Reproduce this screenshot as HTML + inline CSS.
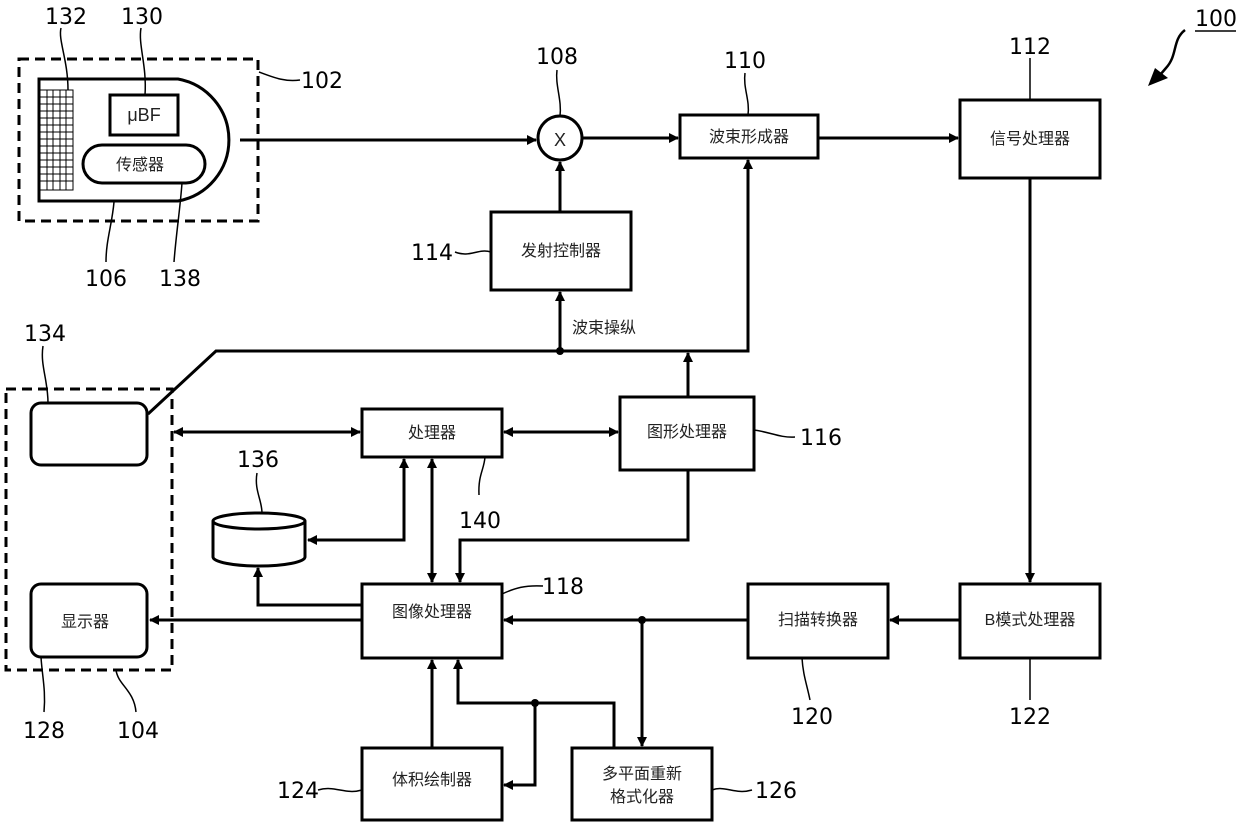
<!DOCTYPE html>
<html><head><meta charset="utf-8"><style>
html,body{margin:0;padding:0;background:#fff;}
svg{display:block;}
.n{font-family:"DejaVu Sans","Liberation Sans",sans-serif;font-size:22px;fill:#000;}
.c{font-family:"Liberation Sans","Noto Sans CJK SC",sans-serif;font-size:16px;fill:#222;}
</style></head><body>
<svg width="1239" height="830" viewBox="0 0 1239 830" xmlns="http://www.w3.org/2000/svg">
<defs>
<marker id="a" markerWidth="10" markerHeight="10" refX="9" refY="5" orient="auto" markerUnits="userSpaceOnUse" viewBox="0 0 10 10"><path d="M0,0 L10,5 L0,10z" fill="#000"/></marker>
<marker id="b" markerWidth="10" markerHeight="10" refX="1" refY="5" orient="auto" markerUnits="userSpaceOnUse" viewBox="0 0 10 10"><path d="M10,0 L0,5 L10,10z" fill="#000"/></marker>
</defs>
<g fill="none" stroke="#000" stroke-width="3">
<rect x="19" y="59" width="239" height="162" stroke-dasharray="10,6"/>
<rect x="6" y="389" width="166" height="281" stroke-dasharray="10,6"/>
<path d="M39,79 H178 A62,62 0 0 1 178,201 H39 Z"/>
<rect x="110" y="95" width="68" height="40"/>
<rect x="83" y="145" width="122" height="38" rx="19"/>
<circle cx="560" cy="138" r="22"/>
<rect x="680" y="115" width="138" height="43"/>
<rect x="960" y="100" width="140" height="78"/>
<rect x="491" y="212" width="140" height="78"/>
<rect x="620" y="397" width="134" height="73"/>
<rect x="31" y="403" width="116" height="62" rx="10"/>
<rect x="362" y="409" width="140" height="48"/>
<rect x="362" y="584" width="140" height="74"/>
<rect x="31" y="584" width="116" height="73" rx="10"/>
<rect x="748" y="584" width="140" height="74"/>
<rect x="960" y="584" width="140" height="74"/>
<rect x="362" y="748" width="140" height="72"/>
<rect x="572" y="748" width="140" height="72"/>
<path d="M213,521 V557 A46,9 0 0 0 305,557 V521"/>
<ellipse cx="259" cy="521" rx="46" ry="8"/>
</g>
<g stroke="#000" stroke-width="1" fill="none">
<rect x="40" y="90" width="33" height="100"/>
<path d="M47,90V190M53,90V190M60,90V190M66,90V190"/>
<path d="M40,97H73M40,104H73M40,111H73M40,118H73M40,125H73M40,132H73M40,139H73M40,146H73M40,153H73M40,160H73M40,167H73M40,174H73M40,181H73"/>
</g>
<g fill="none" stroke="#000" stroke-width="3">
<path d="M240,140 H536" marker-end="url(#a)"/>
<path d="M582,138 H678" marker-end="url(#a)"/>
<path d="M818,138 H958" marker-end="url(#a)"/>
<path d="M560,212 V162" marker-end="url(#a)"/>
<path d="M148,414 L216,351 H748 V160" marker-end="url(#a)"/>
<path d="M560,351 V292" marker-end="url(#a)"/>
<path d="M688,397 V353" marker-end="url(#a)"/>
<path d="M174,432 H360" marker-start="url(#b)" marker-end="url(#a)"/>
<path d="M504,432 H618" marker-start="url(#b)" marker-end="url(#a)"/>
<path d="M404,459 V540 H308" marker-start="url(#b)" marker-end="url(#a)"/>
<path d="M432,459 V582" marker-start="url(#b)" marker-end="url(#a)"/>
<path d="M688,470 V540 H460 V582" marker-end="url(#a)"/>
<path d="M362,605 H258 V568" marker-end="url(#a)"/>
<path d="M362,620 H150" marker-end="url(#a)"/>
<path d="M1030,178 V582" marker-end="url(#a)"/>
<path d="M960,620 H890" marker-end="url(#a)"/>
<path d="M748,620 H504" marker-end="url(#a)"/>
<path d="M642,620 V746" marker-end="url(#a)"/>
<path d="M614,748 V703 H458 V660" marker-end="url(#a)"/>
<path d="M535,703 V785 H504" marker-end="url(#a)"/>
<path d="M432,748 V660" marker-end="url(#a)"/>
</g>
<g fill="#000"><circle cx="560" cy="351" r="4"/><circle cx="642" cy="620" r="4"/><circle cx="535" cy="703" r="4"/></g>
<g fill="none" stroke="#000" stroke-width="1.5">
<path d="M61,28 C58,40 68,60 68,90"/>
<path d="M141,28 C138,45 147,65 145,95"/>
<path d="M259,72 C275,78 285,82 300,80"/>
<path d="M114,202 C112,225 106,240 106,262"/>
<path d="M182,183 C180,210 176,235 174,262"/>
<path d="M557,70 C555,85 562,100 560,116"/>
<path d="M745,73 C743,88 750,100 748,115"/>
<path d="M1030,58 V100"/>
<path d="M455,252 C470,258 478,248 491,252"/>
<path d="M43,346 C40,365 48,380 48,403"/>
<path d="M754,430 C770,432 780,438 795,437"/>
<path d="M257,473 C254,490 262,500 262,513"/>
<path d="M485,457 C484,470 478,475 479,495"/>
<path d="M502,594 C515,588 525,585 543,586"/>
<path d="M41,657 C42,675 46,690 44,712"/>
<path d="M116,670 C118,685 134,690 136,712"/>
<path d="M802,658 C803,675 807,685 810,700"/>
<path d="M1030,658 V700"/>
<path d="M318,790 C335,785 345,795 362,790"/>
<path d="M712,790 C725,785 735,795 752,790"/>
</g>
<path d="M1185,30 C1172,40 1178,55 1166,68 L1160,75" fill="none" stroke="#000" stroke-width="2.5"/>
<path d="M1148,86 L1155,68 L1168,78z" fill="#000"/>
<line x1="1195" y1="31" x2="1236" y2="31" stroke="#000" stroke-width="1.5"/>
<g class="n" text-anchor="middle">
<text x="66" y="24">132</text><text x="142" y="24">130</text>
<text x="322" y="88">102</text>
<text x="106" y="286">106</text><text x="180" y="286">138</text>
<text x="557" y="64">108</text><text x="745" y="68">110</text><text x="1030" y="54">112</text>
<text x="1216" y="26">100</text>
<text x="432" y="260">114</text><text x="45" y="341">134</text>
<text x="821" y="445">116</text><text x="258" y="467">136</text><text x="480" y="528">140</text>
<text x="563" y="594">118</text><text x="44" y="738">128</text><text x="138" y="738">104</text>
<text x="812" y="724">120</text><text x="1030" y="724">122</text>
<text x="298" y="798">124</text><text x="776" y="798">126</text>
</g>
<g class="c" text-anchor="middle">
<text x="144" y="121" style="font-size:18px">μBF</text>
<text x="140" y="170">传感器</text>
<text x="560" y="146" style="font-family:'Liberation Sans',sans-serif;font-size:18px">X</text>
<text x="749" y="142">波束形成器</text>
<text x="1030" y="144">信号处理器</text>
<text x="561" y="256">发射控制器</text>
<text x="604" y="333">波束操纵</text>
<text x="432" y="438">处理器</text>
<text x="687" y="437">图形处理器</text>
<text x="432" y="617">图像处理器</text>
<text x="85" y="627">显示器</text>
<text x="818" y="625">扫描转换器</text>
<text x="1030" y="625">B模式处理器</text>
<text x="432" y="785">体积绘制器</text>
<text x="642" y="779">多平面重新</text>
<text x="642" y="802">格式化器</text>
</g>
</svg>
</body></html>
